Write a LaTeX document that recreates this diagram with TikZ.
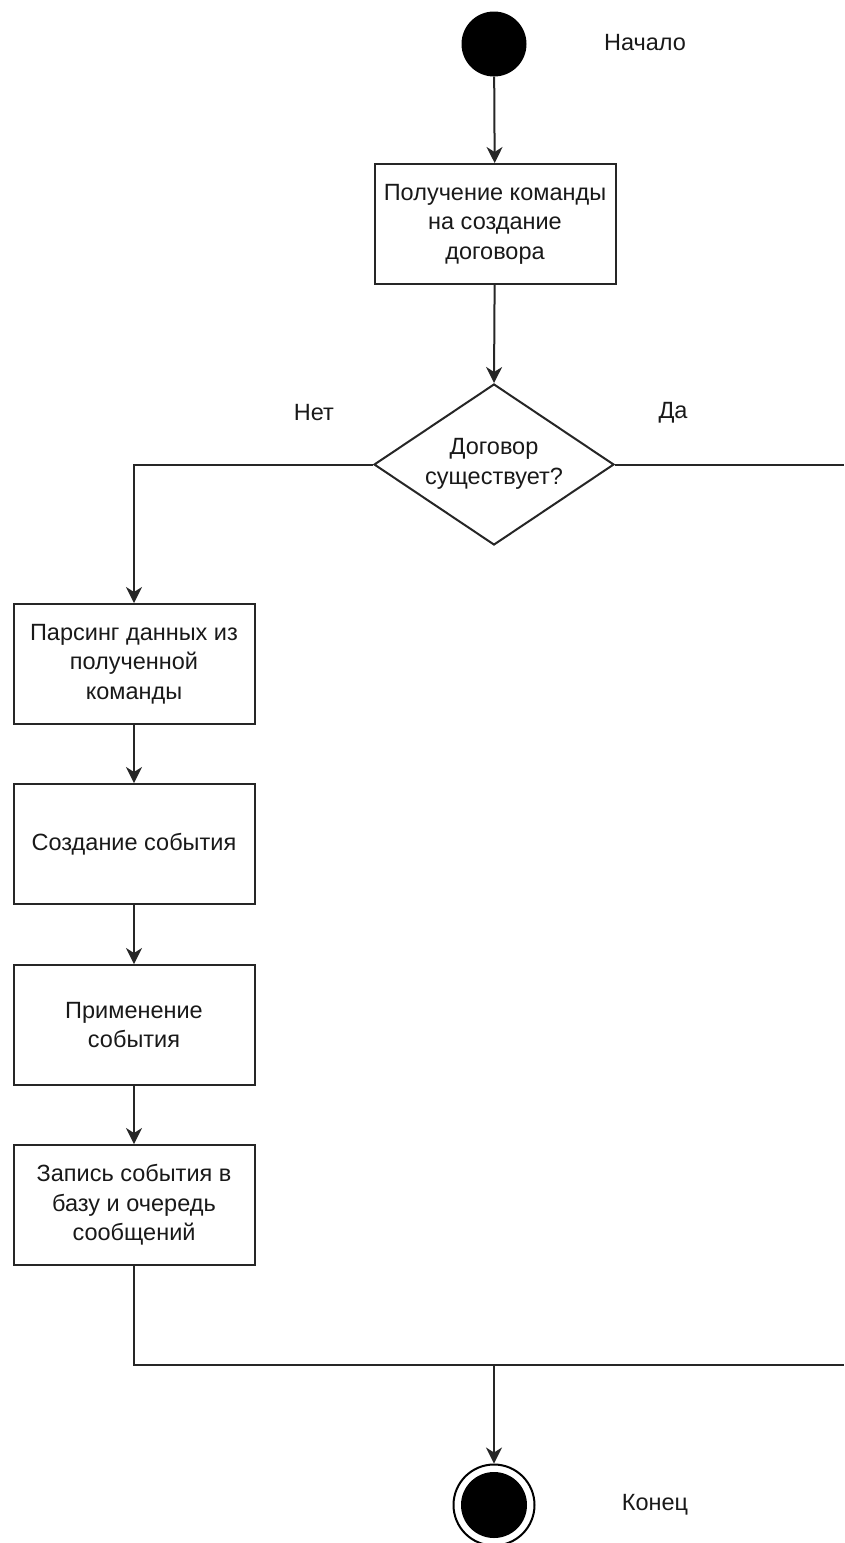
\documentclass[tikz,border=0pt]{standalone}
\usepackage{fontspec}
\setmainfont{Liberation Sans}
\usetikzlibrary{arrows.meta,shapes.geometric}
\begin{document}
\begin{tikzpicture}[x=1pt,y=-1pt,
  every node/.style={font=\fontsize{23.5}{29.5}\selectfont, text=black!90},
  flow/.style={line width=2pt, draw=black!85},
  arr/.style={flow, -{Stealth[length=16pt,width=16pt,inset=5pt]}},
  actbox/.style={draw=black!85, line width=2pt, fill=white, minimum width=241pt, minimum height=120pt, align=center, inner sep=2pt},
  decision/.style={diamond, draw=black!85, line width=2pt, fill=white, minimum width=240pt, minimum height=161pt, aspect=1.5, align=center, inner sep=0pt},
  lbl/.style={align=center}
]
\useasboundingbox (0,0) rectangle (844,1543);

% start and end states
\node[circle, fill=black, minimum size=65pt, inner sep=0pt] (start) at (494,44) {};
\node[lbl] (startlbl) at (645,43) {Начало};

\node[actbox] (recv) at (495,224) {Получение команды\\на создание\\договора};
\node[decision] (exists) at (494,464.5) {};
\node[lbl] at (494,464) {Договор\\существует?};
\node[lbl] (no) at (314,413) {Нет};
\node[lbl] (yes) at (673,413) {Да};

\node[actbox] (parse) at (134,664) {Парсинг данных из\\полученной\\команды};
\node[actbox] (create) at (134,844) {Создание события};
\node[actbox] (apply) at (134,1025) {Применение\\события};
\node[actbox] (store) at (134,1205) {Запись события в\\базу и очередь\\сообщений};

\node[circle, draw=black, line width=2pt, fill=white, minimum size=81pt, inner sep=0pt] (finish) at (494,1505) {};
\node[circle, fill=black, minimum size=66pt, inner sep=0pt] (finishdot) at (494,1505) {};
\node[lbl] (endlbl) at (655,1505) {Конец};

% connectors
\coordinate (yesedge) at (844,464.5);
\coordinate (join) at (494,1365);
\coordinate (joinedge) at (844,1365);

\draw[arr] (start) -- (recv);
\draw[arr] (recv) -- (exists.north);
\draw[arr] (exists.west) -| (parse.north);
\draw[flow] (exists.east) -- (yesedge);
\draw[arr] (parse) -- (create);
\draw[arr] (create) -- (apply);
\draw[arr] (apply) -- (store);
\draw[flow] (store.south) |- (joinedge);
\draw[arr] (join) -- (finish.north);
\end{tikzpicture}
\end{document}
